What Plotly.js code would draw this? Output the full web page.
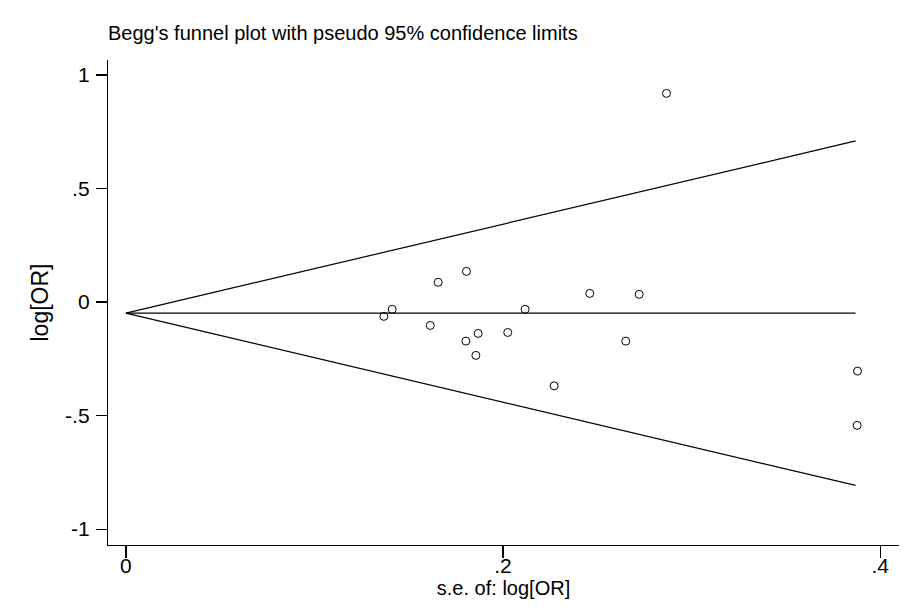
<!DOCTYPE html>
<html>
<head>
<meta charset="utf-8">
<script src="https://cdn.plot.ly/plotly-3.0.1.min.js"></script>
<style>html,body{margin:0;padding:0;background:#fff;}#chart{width:920px;height:614px;}</style>
</head>
<body>
<div id="chart"></div>
<script>
// Study-level data
const seLogOR = [0.1368, 0.1412, 0.1614, 0.1656, 0.1806, 0.1803, 0.1868, 0.1856, 0.2025, 0.2117, 0.2271, 0.2460, 0.2651, 0.2722, 0.2867, 0.3880, 0.3878];
const logOR   = [-0.063, -0.032, -0.103, 0.087, 0.135, -0.172, -0.138, -0.235, -0.134, -0.032, -0.369, 0.038, -0.172, 0.034, 0.919, -0.304, -0.543];
const pooled = -0.049;
const seMax = 0.387;
const xTickVals = [0, 0.2, 0.4];
const xTickText = ["0", ".2", ".4"];
const yTickVals = [-1, -0.5, 0, 0.5, 1];
const yTickText = ["-1", "-.5", "0", ".5", "1"];

const FONT = "'Liberation Sans', Arial, sans-serif";
const lineStyle = {color: '#000', width: 1.2};

const traces = [
  {x: [0, seMax], y: [pooled, pooled + 1.96 * seMax], mode: 'lines', line: lineStyle, hoverinfo: 'skip'},
  {x: [0, seMax], y: [pooled, pooled], mode: 'lines', line: lineStyle, hoverinfo: 'skip'},
  {x: [0, seMax], y: [pooled, pooled - 1.96 * seMax], mode: 'lines', line: lineStyle, hoverinfo: 'skip'},
  {x: seLogOR, y: logOR, mode: 'markers', type: 'scatter',
   marker: {symbol: 'circle-open', size: 8, color: '#000', line: {width: 1, color: '#000'}}}
];

const layout = {
  width: 920, height: 614,
  margin: {l: 108, r: 21, t: 60, b: 69, pad: 0},
  paper_bgcolor: '#fff', plot_bgcolor: '#fff',
  showlegend: false,
  font: {family: FONT, color: '#000', size: 21},
  title: {text: "Begg's funnel plot with pseudo 95% confidence limits",
          font: {family: FONT, size: 20, color: '#000'},
          x: 108/920, xref: 'container', xanchor: 'left', y: 1 - 33/614, yref: 'container', yanchor: 'middle'},
  xaxis: {range: [-0.0095, 0.41], showline: true, linecolor: '#000', linewidth: 1.2,
          showgrid: false, zeroline: false, ticks: 'outside', ticklen: 12, tickwidth: 1.2, tickcolor: '#000',
          tickvals: xTickVals, ticktext: xTickText, tickfont: {family: FONT, size: 21},
          ticklabelstandoff: -10,
          title: {text: 's.e. of: log[OR]', font: {family: FONT, size: 20}, standoff: 0}},
  yaxis: {range: [-1.07, 1.066], showline: true, linecolor: '#000', linewidth: 1.2,
          showgrid: false, zeroline: false, ticks: 'outside', ticklen: 11, tickwidth: 1.2, tickcolor: '#000',
          tickvals: yTickVals, ticktext: yTickText, tickfont: {family: FONT, size: 21},
          ticklabelstandoff: 2,
          title: {text: 'log[OR]', font: {family: FONT, size: 23}, standoff: 10}}
};

Plotly.newPlot('chart', traces, layout, {displayModeBar: false, staticPlot: true});
</script>
</body>
</html>
